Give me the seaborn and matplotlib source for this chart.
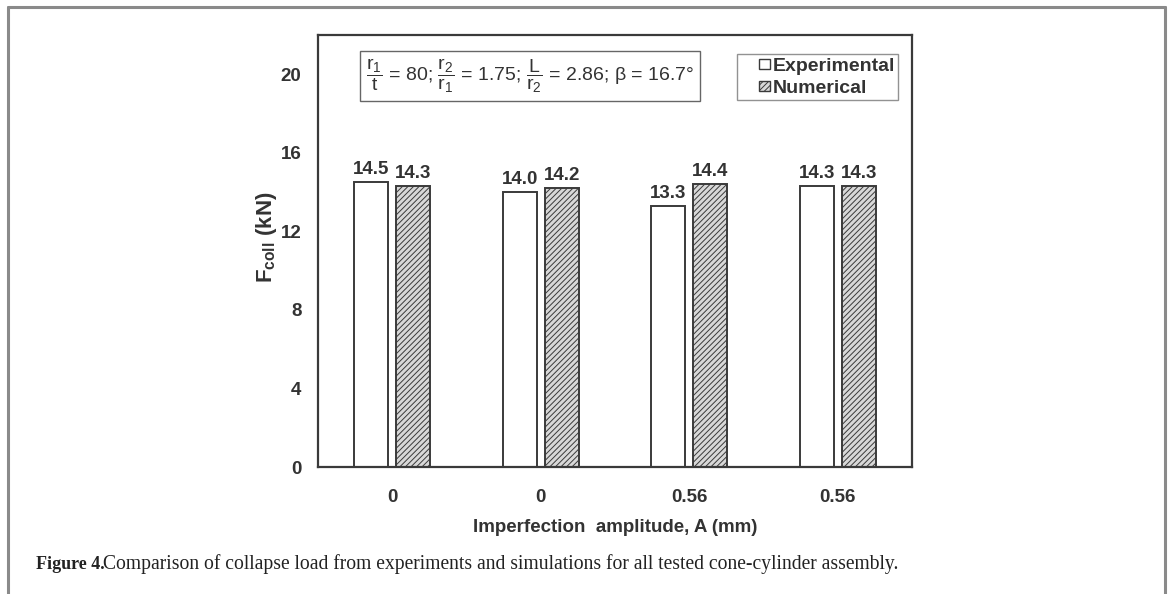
import pandas as pd
import matplotlib.pyplot as plt
import matplotlib.patches as mpatches
import matplotlib.lines as mlines
from matplotlib.legend_handler import HandlerPatch
import seaborn as sns

# values
tests = ['T1', 'T2', 'T3', 'T4']
amplitude_labels = ['0', '0', '0.56', '0.56']
experimental = [14.5, 14.0, 13.3, 14.3]
numerical = [14.3, 14.2, 14.4, 14.3]
y_ticks = [0, 4, 8, 12, 16, 20]

df = pd.DataFrame({
    'test': tests * 2,
    'kind': ['Experimental'] * 4 + ['Numerical'] * 4,
    'F': experimental + numerical,
})

sns.set_style('white')
plt.rcParams['font.family'] = ['Liberation Sans', 'DejaVu Sans']
plt.rcParams['mathtext.fontset'] = 'custom'
plt.rcParams['mathtext.rm'] = 'Liberation Sans'
plt.rcParams['mathtext.it'] = 'Liberation Sans'
plt.rcParams['mathtext.bf'] = 'Liberation Sans:bold'
plt.rcParams['hatch.color'] = '#555555'
plt.rcParams['hatch.linewidth'] = 0.7

txt = '#333333'
edge = '#3a3a3a'
fs = 13.5


# small square sitting at the right end of the handle box
def small_square(legend, orig_handle, xdescent, ydescent, width, height, fontsize):
    s = height * 0.75
    return mpatches.Rectangle((-xdescent + width - s, -ydescent + (height - s) / 2), s, s)


fig = plt.figure(figsize=(11.68, 5.94), dpi=100)
ax = fig.add_axes([0.2723, 0.2138, 0.5085, 0.7272])

sns.barplot(data=df, x='test', y='F', hue='kind', ax=ax,
            width=0.564, gap=0.19, legend=False,
            palette=['white', '#d8d8d8'], edgecolor=edge, linewidth=1.4)

for bar in ax.containers[1]:
    bar.set_hatch('//////')

for cont in ax.containers:
    ax.bar_label(cont, fmt='%.1f', padding=3, fontsize=fs,
                 fontweight='bold', color=txt)

ax.set_xlim(-0.5, 3.5)
ax.set_ylim(0, 22)
ax.set_yticks(y_ticks)
ax.set_xticks(range(len(tests)))
ax.set_xticklabels(amplitude_labels)
ax.tick_params(axis='y', direction='in', length=5, width=1.2, color=edge,
               pad=12, labelsize=fs, labelcolor=txt)
ax.tick_params(axis='x', length=0, pad=16, labelsize=fs, labelcolor=txt)
for lab in ax.get_xticklabels() + ax.get_yticklabels():
    lab.set_fontweight('bold')
for sp in ax.spines.values():
    sp.set_visible(True)
    sp.set_color(edge)
    sp.set_linewidth(1.6)

ax.set_xlabel('Imperfection  amplitude, A (mm)', fontsize=fs,
              fontweight='bold', color=txt, labelpad=9)
ax.set_ylabel(r'F$_{\mathbf{coll}}$ (kN)', fontsize=16,
              fontweight='bold', color=txt)
ax.yaxis.set_label_coords(-0.066, 0.532)

# geometry box
ax.text(0.081, 0.906,
        r'$\dfrac{\mathrm{r_1}}{\mathrm{t}}$ = 80; '
        r'$\dfrac{\mathrm{r_2}}{\mathrm{r_1}}$ = 1.75; '
        r'$\dfrac{\mathrm{L}}{\mathrm{r_2}}$ = 2.86; β = 16.7°',
        transform=ax.transAxes, ha='left', va='center', fontsize=14,
        color=txt,
        bbox=dict(boxstyle='square,pad=0.3', fc='white', ec='#666666', lw=1.0))

handles = [mpatches.Patch(fc='white', ec=edge, lw=1.0, label='Experimental'),
           mpatches.Patch(fc='#d8d8d8', ec=edge, lw=1.0, hatch='//////',
                          label='Numerical')]
leg = ax.legend(handles=handles, loc='upper right',
                bbox_to_anchor=(0.976, 0.956), frameon=True, fancybox=False,
                edgecolor='#777777', handlelength=1.5, handleheight=0.7,
                handletextpad=0.15, borderpad=0.15, labelspacing=0.25,
                borderaxespad=0.0,
                handler_map={mpatches.Patch: HandlerPatch(patch_func=small_square)},
                prop={'weight': 'bold', 'size': 14})
leg.get_frame().set_linewidth(1.0)
for t in leg.get_texts():
    t.set_color(txt)

# page frame
frame = '#8a8a8a'
fig.add_artist(mlines.Line2D([0.0068, 0.0068], [0.0, 0.988], color=frame, lw=2.2))
fig.add_artist(mlines.Line2D([0.0068, 0.9975], [0.988, 0.988], color=frame, lw=2.2))
fig.add_artist(mlines.Line2D([0.9975, 0.9975], [0.0, 0.988], color=frame, lw=2.2))

# caption
fig.text(0.031, 0.042, 'Figure 4.', fontsize=13, fontweight='bold',
         family='Liberation Serif', color='#222222', va='baseline')
fig.text(0.0885, 0.042,
         'Comparison of collapse load from experiments and simulations for all tested cone-cylinder assembly.',
         fontsize=14.1, family='Liberation Serif', color='#222222', va='baseline')

fig.savefig('out.png', dpi=100)
